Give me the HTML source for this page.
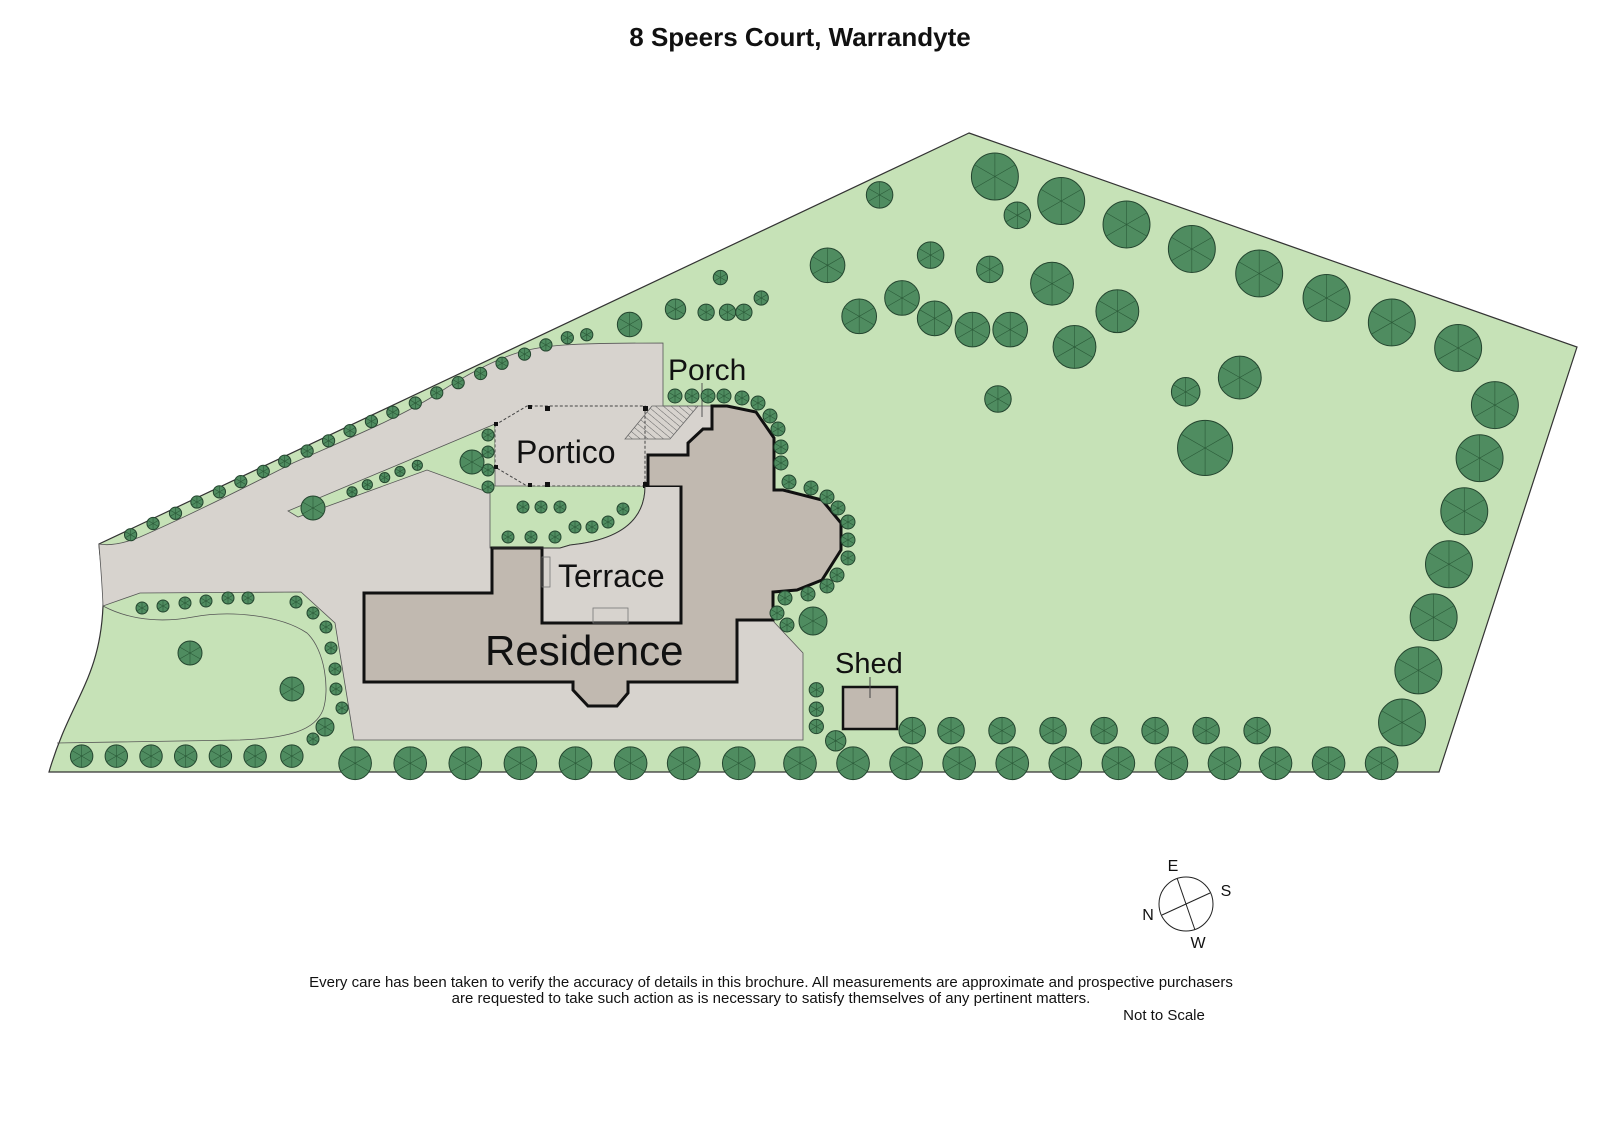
<!DOCTYPE html>
<html><head><meta charset="utf-8"><style>
html,body{margin:0;padding:0;background:#fff;}
svg{display:block;}
text{font-family:"Liberation Sans",sans-serif;fill:#111;}
</style></head><body>
<svg width="1600" height="1131" viewBox="0 0 1600 1131" xmlns="http://www.w3.org/2000/svg">
<defs>
<g id="t">
<circle r="1" fill="#4f8c60" stroke="#24452f" stroke-width="1" vector-effect="non-scaling-stroke"/>
<path d="M0 0L0 -1M0 0L0.87 -0.5M0 0L0.87 0.5M0 0L0 1M0 0L-0.87 0.5M0 0L-0.87 -0.5" stroke="#2b5a38" stroke-width="0.6" vector-effect="non-scaling-stroke"/>
</g>
<pattern id="h" width="5" height="5" patternUnits="userSpaceOnUse" patternTransform="rotate(-50)"><line x1="0" y1="0" x2="0" y2="5" stroke="#666" stroke-width="1"/></pattern>
</defs>
<text x="800" y="46" text-anchor="middle" font-size="26" font-weight="bold">8 Speers Court, Warrandyte</text>

<!-- lot -->
<path d="M969 133 L1577 347 L1439 772 L49 772 C70 700 100 680 103 606 C104 580 100 560 99 544 Z" fill="#c6e2b7" stroke="#333" stroke-width="1.2"/>
<!-- grey driveway -->
<path d="M99 544 C110 546 125 543 140 537 C190 515 250 485 293 463 C340 442 400 418 440 392 C470 372 500 358 520 352 C545 345 570 343 663 343 L663 406 L712 406 L774 440 L774 622 L803 653 L803 740 L354 740 L335 623 L301 592 L140 593 L103 606 C102 580 100 560 99 544 Z" fill="#d7d3ce" stroke="#555" stroke-width="0.8"/>
<!-- island strip + green around portico -->
<path d="M288 511 L495 424 L495 486 L645 486 C645 520 620 540 570 545 L560 548 L490 548 L490 493 L427 470 L298 517 Z" fill="#c6e2b7" stroke="#555" stroke-width="0.8"/>
<!-- lower lawn inner line -->
<path d="M103 606 C120 615 150 625 193 617 C230 610 280 615 307 633 C325 650 330 690 323 710 C315 730 290 738 240 740 L57 743" fill="none" stroke="#555" stroke-width="0.8"/>
<!-- portico -->
<path d="M495 425 L527 406 L645 406 L645 486 L527 486 L495 467 Z" fill="#d7d3ce" stroke="#444" stroke-width="1" stroke-dasharray="3,2"/>
<g fill="#111">
<rect x="494" y="422" width="4" height="4"/><rect x="494" y="465" width="4" height="4"/>
<rect x="528" y="405" width="4" height="4"/><rect x="545" y="406" width="5" height="5"/><rect x="643" y="406" width="5" height="5"/>
<rect x="528" y="483" width="4" height="4"/><rect x="545" y="482" width="5" height="5"/><rect x="643" y="482" width="5" height="6"/>
</g>
<path d="M625 439 L652 406 L698 406 L670 439 Z" fill="url(#h)" stroke="#666" stroke-width="0.8"/>
<line x1="702" y1="383" x2="702" y2="417" stroke="#555" stroke-width="1"/>
<!-- building -->
<path d="M364 593 L492 593 L492 548 L542 548 L542 623 L681 623 L681 487 L648 487 L648 455 L688 455 L688 443 L703 429 L712 429 L712 406 L727 406 L756 412 L774 438 L774 490 L783 490 L822 500 L841 523 L841 550 L822 580 L797 590 L773 592 L773 620 L737 620 L737 682 L628 682 L628 693 L617 706 L588 706 L573 690 L573 682 L364 682 Z" fill="#c1b9b0" stroke="#111" stroke-width="3" stroke-linejoin="miter"/>
<path d="M542 548 L542 623 L681 623 L681 487 L645 487 C645 520 620 540 570 545 L560 548 Z" fill="#d7d3ce"/>
<path d="M542 548 L542 623 L681 623 L681 487" fill="none" stroke="#111" stroke-width="3"/>
<path d="M645 486 C645 520 620 540 570 545 L560 548 L492 548" fill="none" stroke="#333" stroke-width="1"/>
<rect x="542" y="557" width="8" height="30" fill="none" stroke="#777" stroke-width="0.8"/>
<rect x="593" y="608" width="35" height="15" fill="none" stroke="#777" stroke-width="0.8"/>
<!-- shed -->
<rect x="843" y="687" width="54" height="42" fill="#c1b9b0" stroke="#111" stroke-width="2.5"/>
<line x1="870" y1="677" x2="870" y2="698" stroke="#444" stroke-width="1"/>

<!-- labels -->
<text x="668" y="380" font-size="30">Porch</text>
<text x="516" y="463" font-size="32">Portico</text>
<text x="558" y="587" font-size="32">Terrace</text>
<text x="485" y="665" font-size="42">Residence</text>
<text x="835" y="673" font-size="29">Shed</text>

<!-- trees in real coords -->
<g>
<use href="#t" transform="translate(675,396) scale(7)"/><use href="#t" transform="translate(692,396) scale(7)"/><use href="#t" transform="translate(708,396) scale(7)"/><use href="#t" transform="translate(724,396) scale(7)"/>
<use href="#t" transform="translate(742,398) scale(7)"/><use href="#t" transform="translate(758,403) scale(7)"/><use href="#t" transform="translate(770,416) scale(7)"/><use href="#t" transform="translate(778,429) scale(7)"/>
<use href="#t" transform="translate(781,447) scale(7)"/><use href="#t" transform="translate(781,463) scale(7)"/><use href="#t" transform="translate(789,482) scale(7)"/><use href="#t" transform="translate(811,488) scale(7)"/>
<use href="#t" transform="translate(827,497) scale(7)"/><use href="#t" transform="translate(838,508) scale(7)"/><use href="#t" transform="translate(848,522) scale(7)"/><use href="#t" transform="translate(848,540) scale(7)"/>
<use href="#t" transform="translate(848,558) scale(7)"/><use href="#t" transform="translate(837,575) scale(7)"/><use href="#t" transform="translate(827,586) scale(7)"/><use href="#t" transform="translate(808,594) scale(7)"/>
<use href="#t" transform="translate(785,598) scale(7)"/><use href="#t" transform="translate(777,613) scale(7)"/><use href="#t" transform="translate(787,625) scale(7)"/>
<use href="#t" transform="translate(813,621) scale(14)"/>
<use href="#t" transform="translate(523,507) scale(6)"/><use href="#t" transform="translate(541,507) scale(6)"/><use href="#t" transform="translate(560,507) scale(6)"/><use href="#t" transform="translate(623,509) scale(6)"/>
<use href="#t" transform="translate(608,522) scale(6)"/><use href="#t" transform="translate(592,527) scale(6)"/><use href="#t" transform="translate(575,527) scale(6)"/>
<use href="#t" transform="translate(555,537) scale(6)"/><use href="#t" transform="translate(531,537) scale(6)"/><use href="#t" transform="translate(508,537) scale(6)"/>
<use href="#t" transform="translate(488,435) scale(6)"/><use href="#t" transform="translate(488,452) scale(6)"/><use href="#t" transform="translate(488,470) scale(6)"/><use href="#t" transform="translate(488,487) scale(6)"/>
<use href="#t" transform="translate(472,462) scale(12)"/>
<use href="#t" transform="translate(142,608) scale(6)"/><use href="#t" transform="translate(163,606) scale(6)"/><use href="#t" transform="translate(185,603) scale(6)"/><use href="#t" transform="translate(206,601) scale(6)"/>
<use href="#t" transform="translate(228,598) scale(6)"/><use href="#t" transform="translate(248,598) scale(6)"/><use href="#t" transform="translate(296,602) scale(6)"/><use href="#t" transform="translate(313,613) scale(6)"/>
<use href="#t" transform="translate(326,627) scale(6)"/><use href="#t" transform="translate(331,648) scale(6)"/><use href="#t" transform="translate(335,669) scale(6)"/><use href="#t" transform="translate(336,689) scale(6)"/>
<use href="#t" transform="translate(342,708) scale(6)"/><use href="#t" transform="translate(325,727) scale(9)"/><use href="#t" transform="translate(313,739) scale(6)"/>
<use href="#t" transform="translate(190,653) scale(12)"/><use href="#t" transform="translate(292,689) scale(12)"/>
<use href="#t" transform="translate(313,508) scale(12)"/>
</g>
<!-- trees in perceived coords -->
<g transform="scale(1.0204)">
<g>
<use href="#t" transform="translate(128,524) scale(6)"/><use href="#t" transform="translate(150,513) scale(6)"/><use href="#t" transform="translate(172,503) scale(6)"/><use href="#t" transform="translate(193,492) scale(6)"/>
<use href="#t" transform="translate(215,482) scale(6)"/><use href="#t" transform="translate(236,472) scale(6)"/><use href="#t" transform="translate(258,462) scale(6)"/><use href="#t" transform="translate(279,452) scale(6)"/>
<use href="#t" transform="translate(301,442) scale(6)"/><use href="#t" transform="translate(322,432) scale(6)"/><use href="#t" transform="translate(343,422) scale(6)"/><use href="#t" transform="translate(364,413) scale(6)"/>
<use href="#t" transform="translate(385,404) scale(6)"/><use href="#t" transform="translate(407,395) scale(6)"/><use href="#t" transform="translate(428,385) scale(6)"/><use href="#t" transform="translate(449,375) scale(6)"/>
<use href="#t" transform="translate(471,366) scale(6)"/><use href="#t" transform="translate(492,356) scale(6)"/><use href="#t" transform="translate(514,347) scale(6)"/><use href="#t" transform="translate(535,338) scale(6)"/>
<use href="#t" transform="translate(556,331) scale(6)"/><use href="#t" transform="translate(575,328) scale(6)"/>
<use href="#t" transform="translate(345,482) scale(5)"/><use href="#t" transform="translate(360,475) scale(5)"/><use href="#t" transform="translate(377,468) scale(5)"/><use href="#t" transform="translate(392,462) scale(5)"/><use href="#t" transform="translate(409,456) scale(5)"/>
</g>
<g>
<use href="#t" transform="translate(80,741) scale(11)"/><use href="#t" transform="translate(114,741) scale(11)"/><use href="#t" transform="translate(148,741) scale(11)"/><use href="#t" transform="translate(182,741) scale(11)"/>
<use href="#t" transform="translate(216,741) scale(11)"/><use href="#t" transform="translate(250,741) scale(11)"/><use href="#t" transform="translate(286,741) scale(11)"/>
<use href="#t" transform="translate(348,748) scale(16)"/><use href="#t" transform="translate(402,748) scale(16)"/><use href="#t" transform="translate(456,748) scale(16)"/><use href="#t" transform="translate(510,748) scale(16)"/>
<use href="#t" transform="translate(564,748) scale(16)"/><use href="#t" transform="translate(618,748) scale(16)"/><use href="#t" transform="translate(670,748) scale(16)"/><use href="#t" transform="translate(724,748) scale(16)"/>
<use href="#t" transform="translate(784,748) scale(16)"/><use href="#t" transform="translate(836,748) scale(16)"/><use href="#t" transform="translate(888,748) scale(16)"/><use href="#t" transform="translate(940,748) scale(16)"/>
<use href="#t" transform="translate(992,748) scale(16)"/><use href="#t" transform="translate(1044,748) scale(16)"/><use href="#t" transform="translate(1096,748) scale(16)"/><use href="#t" transform="translate(1148,748) scale(16)"/>
<use href="#t" transform="translate(1200,748) scale(16)"/><use href="#t" transform="translate(1250,748) scale(16)"/><use href="#t" transform="translate(1302,748) scale(16)"/><use href="#t" transform="translate(1354,748) scale(16)"/>
<use href="#t" transform="translate(819,726) scale(10)"/><use href="#t" transform="translate(800,712) scale(7)"/><use href="#t" transform="translate(800,695) scale(7)"/><use href="#t" transform="translate(800,676) scale(7)"/>
<use href="#t" transform="translate(894,716) scale(13)"/><use href="#t" transform="translate(932,716) scale(13)"/><use href="#t" transform="translate(982,716) scale(13)"/><use href="#t" transform="translate(1032,716) scale(13)"/>
<use href="#t" transform="translate(1082,716) scale(13)"/><use href="#t" transform="translate(1132,716) scale(13)"/><use href="#t" transform="translate(1182,716) scale(13)"/><use href="#t" transform="translate(1232,716) scale(13)"/>
</g>
<g>
<use href="#t" transform="translate(1429,341) scale(23)"/><use href="#t" transform="translate(1465,397) scale(23)"/><use href="#t" transform="translate(1450,449) scale(23)"/><use href="#t" transform="translate(1435,501) scale(23)"/>
<use href="#t" transform="translate(1420,553) scale(23)"/><use href="#t" transform="translate(1405,605) scale(23)"/><use href="#t" transform="translate(1390,657) scale(23)"/><use href="#t" transform="translate(1374,708) scale(23)"/>
<use href="#t" transform="translate(1364,316) scale(23)"/><use href="#t" transform="translate(1300,292) scale(23)"/><use href="#t" transform="translate(1234,268) scale(23)"/><use href="#t" transform="translate(1168,244) scale(23)"/>
<use href="#t" transform="translate(1104,220) scale(23)"/><use href="#t" transform="translate(1040,197) scale(23)"/><use href="#t" transform="translate(975,173) scale(23)"/>
<use href="#t" transform="translate(997,211) scale(13)"/><use href="#t" transform="translate(862,191) scale(13)"/><use href="#t" transform="translate(912,250) scale(13)"/><use href="#t" transform="translate(970,264) scale(13)"/>
<use href="#t" transform="translate(1031,278) scale(21)"/><use href="#t" transform="translate(1095,305) scale(21)"/><use href="#t" transform="translate(1053,340) scale(21)"/>
<use href="#t" transform="translate(811,260) scale(17)"/><use href="#t" transform="translate(884,292) scale(17)"/><use href="#t" transform="translate(842,310) scale(17)"/><use href="#t" transform="translate(916,312) scale(17)"/>
<use href="#t" transform="translate(953,323) scale(17)"/><use href="#t" transform="translate(990,323) scale(17)"/>
<use href="#t" transform="translate(1215,370) scale(21)"/><use href="#t" transform="translate(1162,384) scale(14)"/><use href="#t" transform="translate(978,391) scale(13)"/><use href="#t" transform="translate(1181,439) scale(27)"/>
<use href="#t" transform="translate(706,272) scale(7)"/><use href="#t" transform="translate(662,303) scale(10)"/><use href="#t" transform="translate(692,306) scale(8)"/><use href="#t" transform="translate(713,306) scale(8)"/>
<use href="#t" transform="translate(729,306) scale(8)"/><use href="#t" transform="translate(746,292) scale(7)"/><use href="#t" transform="translate(617,318) scale(12)"/>
</g>
</g>

<!-- compass -->
<circle cx="1186" cy="904" r="27" fill="none" stroke="#222" stroke-width="1"/>
<line x1="1162" y1="915" x2="1210" y2="893" stroke="#222" stroke-width="1"/>
<line x1="1177" y1="878" x2="1195" y2="930" stroke="#222" stroke-width="1"/>
<text x="1173" y="871" font-size="16" text-anchor="middle">E</text>
<text x="1226" y="896" font-size="16" text-anchor="middle">S</text>
<text x="1148" y="920" font-size="16" text-anchor="middle">N</text>
<text x="1198" y="948" font-size="16" text-anchor="middle">W</text>

<text x="771" y="987" font-size="15" text-anchor="middle">Every care has been taken to verify the accuracy of details in this brochure. All measurements are approximate and prospective purchasers</text>
<text x="771" y="1003" font-size="15" text-anchor="middle">are requested to take such action as is necessary to satisfy themselves of any pertinent matters.</text>
<text x="1164" y="1020" font-size="15" text-anchor="middle">Not to Scale</text>
</svg>
</body></html>
